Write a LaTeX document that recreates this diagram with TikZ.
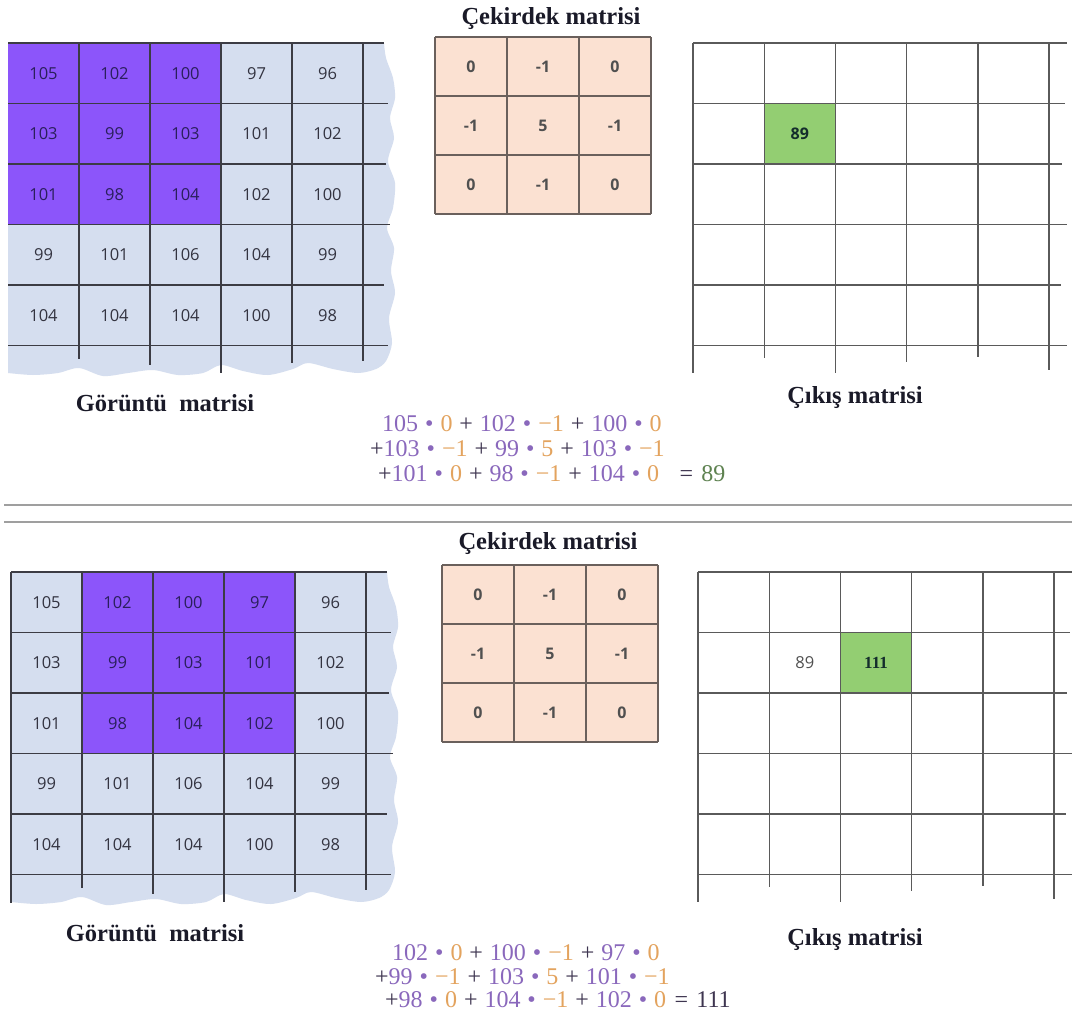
\documentclass[tikz,border=0pt]{standalone}
\usepackage{fontspec}
\setmainfont{Liberation Serif}
\newfontfamily\cellfont{Open Sans}
\definecolor{imgbg}{HTML}{D5DEEF}
\definecolor{hlfill}{HTML}{8C55FA}
\definecolor{kerfill}{HTML}{FBE1D2}
\definecolor{kerline}{HTML}{6A605C}
\definecolor{gridline}{HTML}{3C3C44}
\definecolor{outline}{HTML}{5A5A5A}
\definecolor{greenfill}{HTML}{93CE72}
\definecolor{celltext}{HTML}{333340}
\definecolor{hltext}{HTML}{2A1F5C}
\definecolor{kertext}{HTML}{505050}
\definecolor{eqpurple}{HTML}{8A68BC}
\definecolor{eqorange}{HTML}{E3A35E}
\definecolor{eqgreen}{HTML}{5E8250}
\definecolor{eqdark}{HTML}{3E3550}
\definecolor{titletext}{HTML}{1A1A28}
\newcommand\eqsp{\hskip 0.29em\relax}
\newcommand\eqP[1]{\textcolor{eqpurple}{#1}}
\newcommand\eqO[1]{\textcolor{eqorange}{#1}}
\newcommand\eqG[1]{\textcolor{eqgreen}{#1}}
\newcommand\eqB{\eqsp\textcolor{eqpurple}{•}\eqsp}
\newcommand\eqPl{\eqsp\textcolor{eqdark}{+}\eqsp}
\tikzset{
  cell/.style={minimum width=71pt,minimum height=60.5pt,inner sep=0pt,font=\cellfont\fontsize{16.5}{16.5}\selectfont},
  kcell/.style={minimum width=72pt,minimum height=59pt,inner sep=0pt,text=kertext,font=\cellfont\fontsize{16}{16}\selectfont\bfseries},
  gl/.style={draw=gridline,line width=1.2pt},
  kl/.style={draw=kerline,line width=1.5pt},
  ol/.style={draw=outline,line width=1.4pt},
  title/.style={font=\fontsize{24.5}{24.5}\selectfont\bfseries,text=titletext,inner sep=0pt},
  eq/.style={font=\fontsize{24}{24}\selectfont,text=eqdark,inner sep=0pt,anchor=west},
  sep/.style={draw=gray!75,line width=1.6pt}
}
\newcommand\imggrid[3]{%
  \fill[imgbg] (0,0) -- (376,0) -- plot[smooth] coordinates {(376,0) (378,15) (385,35) (387,55) (382,75) (386,95) (380,118) (387,140) (385,165) (379,185) (386,205) (383,228) (387,250) (381,275) (384,300) (378,318) (368,326) (350,330) (325,326) (300,320) (285,326) (260,332) (235,328) (213,322) (195,330) (170,332) (145,327) (120,330) (95,333) (71,325) (50,330) (25,332) (0,330)} -- cycle;
  \fill[hlfill] (71*#2-71,0) rectangle (71*#3,181.5);
  \foreach \y/\l in {0/376,60.5/380,121/378,181.5/382,242/376,302.5/380} \draw[gl] (0,\y) -- (\l,\y);
  \foreach \x/\l in {71/316,142/322,213/330,284/320,355/318} \draw[gl] (\x,0) -- (\x,\l);
  \foreach \row [count=\r] in {{105,102,100,97,96},{103,99,103,101,102},{101,98,104,102,100},{99,101,106,104,99},{104,104,104,100,98}}{
    \foreach \v [count=\c] in \row {
      \pgfmathtruncatemacro\ishl{and(\r<4,and(\c>=#2,\c<=#3))}
      \ifnum\ishl=1 \def\tc{hltext}\else\def\tc{celltext}\fi
      \node[cell,text=\tc] (#1-\r-\c) at (71*\c-35.5,60.5*\r-30.25) {\v};
    }
  }
}
\newcommand\kergrid[1]{%
  \fill[kerfill] (0,0) rectangle (216,177);
  \foreach \x in {0,72,144,216} \draw[kl] (\x,0) -- (\x,177);
  \foreach \y in {0,59,118,177} \draw[kl] (0,\y) -- (216,\y);
  \foreach \row [count=\r] in {{0,-1,0},{-1,5,-1},{0,-1,0}}{
    \foreach \v [count=\c] in \row {
      \node[kcell] (#1-\r-\c) at (72*\c-36,59*\r-29.5) {\v};
    }
  }
}
\newcommand\outgrid{%
  \foreach \y/\l in {0/374,60.5/372,121/369,181.5/374,242/368,302.5/374} \draw[ol] (0,\y) -- (\l,\y);
  \foreach \x/\l in {0/330,71.2/315,142.4/330,213.6/319,284.8/314,356/327} \draw[ol] (\x,0) -- (\x,\l);
}
\begin{document}
\begin{tikzpicture}[x=1pt,y=-1pt]
\useasboundingbox[fill=white] (0,0) rectangle (1072,1020);
% ---------- top panel ----------
\begin{scope}[shift={(8,43)}]
  \imggrid{A}{1}{3}
\end{scope}
\node[title] (tkA) at (551,19) {Çekirdek matrisi};
\begin{scope}[shift={(435,37)}]
  \kergrid{K}
\end{scope}
\begin{scope}[shift={(693,43)}]
  \fill[greenfill] (71.2,60.5) rectangle (142.4,121);
  \outgrid
  \node[cell,text=hltext!80!green!60!black,font=\cellfont\fontsize{16}{16}\selectfont\bfseries] (oA89) at (106.8,90.75) {89};
\end{scope}
\node[title] (tiA) at (165,403) {Görüntü\ \ matrisi};
\node[title] (toA) at (855,398) {Çıkış matrisi};
\node[eq] (eA1) at (382,424) {\eqP{105}\eqB\eqO{0}\eqPl\eqP{102}\eqB\eqO{−1}\eqPl\eqP{100}\eqB\eqO{0}};
\node[eq] (eA2) at (370,449) {+\eqP{103}\eqB\eqO{−1}\eqPl\eqP{99}\eqB\eqO{5}\eqPl\eqP{103}\eqB\eqO{−1}};
\node[eq] (eA3) at (378,474) {+\eqP{101}\eqB\eqO{0}\eqPl\eqP{98}\eqB\eqO{−1}\eqPl\eqP{104}\eqB\eqO{0}\hskip0.85em=\hskip0.35em\eqG{89}};
% ---------- separator ----------
\coordinate (s1a) at (4,505); \coordinate (s1b) at (1072,505);
\coordinate (s2a) at (4,522); \coordinate (s2b) at (1072,522);
\draw[sep] (s1a) -- (s1b);
\draw[sep] (s2a) -- (s2b);
% ---------- bottom panel ----------
\begin{scope}[shift={(11,572)}]
  \imggrid{B}{2}{4}
  \draw[gl] (0,0) -- (0,331);
\end{scope}
\node[title] (tkB) at (548,544) {Çekirdek matrisi};
\begin{scope}[shift={(442,565)}]
  \kergrid{L}
\end{scope}
\begin{scope}[shift={(698,572)}]
  \fill[greenfill] (142.4,60.5) rectangle (213.6,121);
  \outgrid
  \node[cell,text=kertext] (oB89) at (106.8,90.75) {89};
  \node[cell,text=hltext!80!green!60!black,font=\fontsize{17}{17}\selectfont\bfseries] (oB111) at (178,90.75) {111};
\end{scope}
\node[title] (tiB) at (155,933) {Görüntü\ \ matrisi};
\node[title] (toB) at (855,940) {Çıkış matrisi};
\node[eq] (eB1) at (392,953) {\eqP{102}\eqB\eqO{0}\eqPl\eqP{100}\eqB\eqO{−1}\eqPl\eqP{97}\eqB\eqO{0}};
\node[eq] (eB2) at (375,977) {+\eqP{99}\eqB\eqO{−1}\eqPl\eqP{103}\eqB\eqO{5}\eqPl\eqP{101}\eqB\eqO{−1}};
\node[eq] (eB3) at (385,1000) {+\eqP{98}\eqB\eqO{0}\eqPl\eqP{104}\eqB\eqO{−1}\eqPl\eqP{102}\eqB\eqO{0}\hskip0.35em=\hskip0.35em\textcolor{eqdark}{111}};
\end{tikzpicture}
\end{document}
